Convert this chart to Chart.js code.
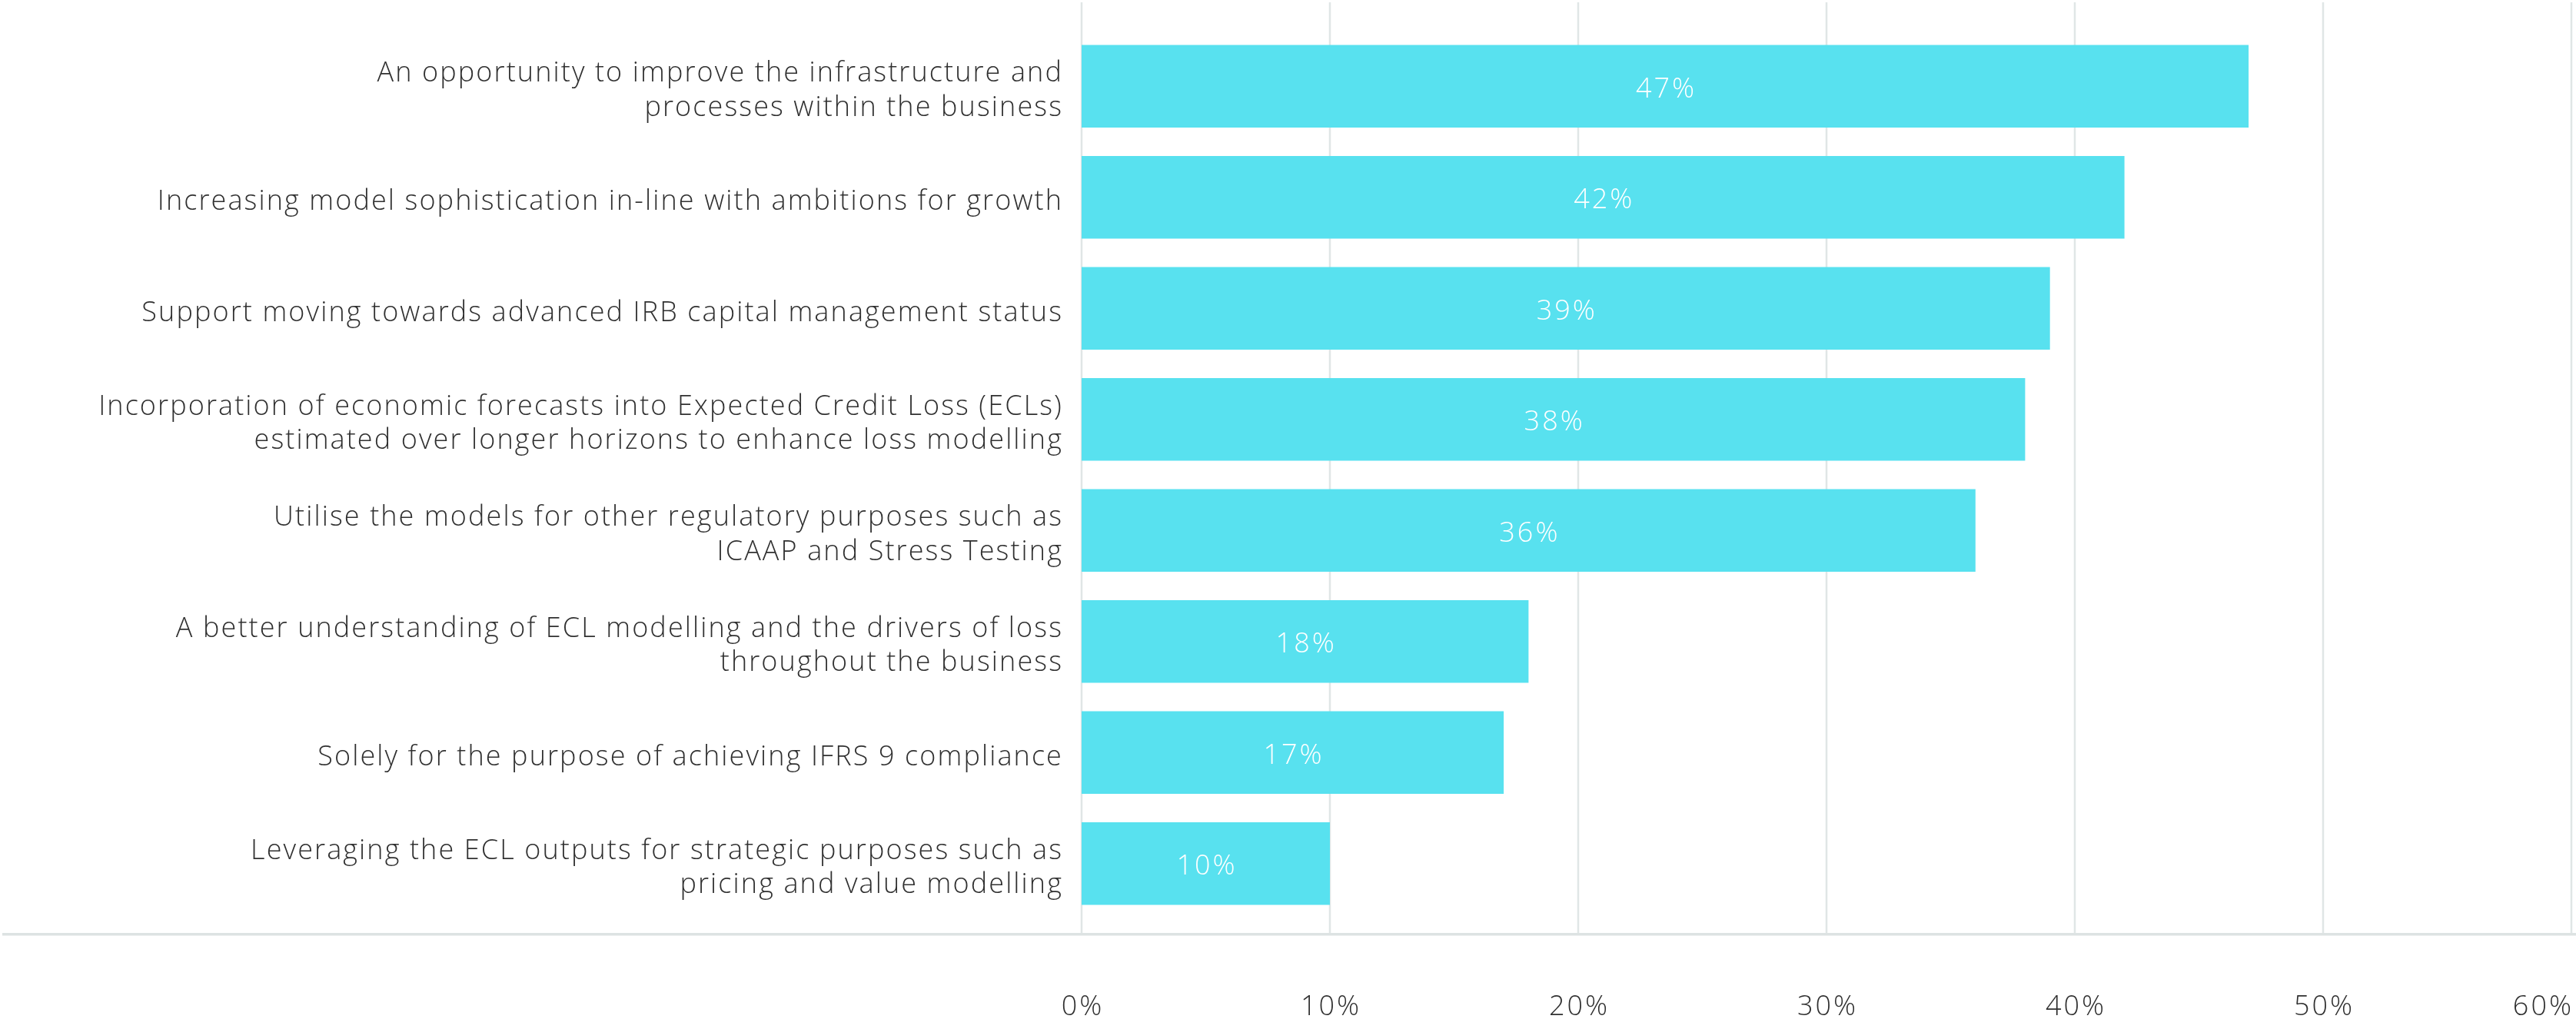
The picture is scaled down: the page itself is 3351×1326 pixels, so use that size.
<!DOCTYPE html>
<html>
<head>
<meta charset="utf-8">
<title>Drivers for IFRS 9 model development</title>
<script src="https://cdn.jsdelivr.net/npm/chart.js@4/dist/chart.umd.min.js"></script>
<style>
  html, body { margin: 0; padding: 0; background: #ffffff; }
  #wrap { width: 3351px; height: 1326px; position: relative; }
</style>
</head>
<body>
<div id="wrap"><canvas id="c" width="3351" height="1326"></canvas></div>
<script>
// Survey answers (top to bottom)
const categories = [
  ["An opportunity to improve the infrastructure and", "processes within the business"],
  "Increasing model sophistication in-line with ambitions for growth",
  "Support moving towards advanced IRB capital management status",
  ["Incorporation of economic forecasts into Expected Credit Loss (ECLs)", "estimated over longer horizons to enhance loss modelling"],
  ["Utilise the models for other regulatory purposes such as", "ICAAP and Stress Testing"],
  ["A better understanding of ECL modelling and the drivers of loss", "throughout the business"],
  "Solely for the purpose of achieving IFRS 9 compliance",
  ["Leveraging the ECL outputs for strategic purposes such as", "pricing and value modelling"]
];

// Share of respondents, in percent
const shares = [47, 42, 39, 38, 36, 18, 17, 10];

// Value axis tick positions, in percent
const xTicks = [0, 10, 20, 30, 40, 50, 60];

const FONT = '"Open Sans", Lato, sans-serif';
const TEXT = '#303030';
const BAR = '#58e1ef';
const GRID = '#e0e6e6';
const NUM_FONT = '300 36px ' + FONT;

// Vertical gridlines and the baseline rule, drawn under the bars
const gridPlugin = {
  id: 'gridRules',
  beforeDraw(chart) {
    // slightly open tracking for the category labels
    chart.ctx.letterSpacing = '2.1px';
  },
  beforeDatasetsDraw(chart) {
    const { ctx, chartArea } = chart;
    const xs = chart.scales.x;
    const top = chartArea.top - 37;
    const bottom = chartArea.bottom + 20;
    ctx.save();
    ctx.strokeStyle = GRID;
    ctx.lineWidth = 2.5;
    xTicks.forEach(v => {
      const px = xs.getPixelForValue(v);
      ctx.beginPath();
      ctx.moveTo(px, top);
      ctx.lineTo(px, bottom);
      ctx.stroke();
    });
    ctx.fillStyle = '#dde3e3';
    ctx.fillRect(3, bottom - 2, chart.width - 3, 3.5);
    ctx.restore();
  },
  afterDatasetsDraw(chart) {
    const { ctx } = chart;
    const meta = chart.getDatasetMeta(0);
    ctx.save();
    ctx.letterSpacing = '3px';
    ctx.fillStyle = '#ffffff';
    ctx.font = NUM_FONT;
    ctx.textAlign = 'center';
    ctx.textBaseline = 'middle';
    meta.data.forEach((bar, i) => {
      const cx = (bar.x + bar.base) / 2;
      ctx.fillText(shares[i] + '%', cx + 1.5, bar.y + 4);
    });
    ctx.restore();
  },
  afterDraw(chart) {
    const { ctx, chartArea } = chart;
    const xs = chart.scales.x;
    ctx.save();
    ctx.letterSpacing = '3px';
    ctx.fillStyle = TEXT;
    ctx.font = NUM_FONT;
    ctx.textBaseline = 'alphabetic';
    xTicks.forEach((v, i) => {
      const px = xs.getPixelForValue(v);
      const last = i === xTicks.length - 1;
      ctx.textAlign = last ? 'right' : 'center';
      ctx.fillText(v + '%', last ? px + 3 : px + 1.5, chartArea.bottom + 125);
    });
    ctx.restore();
  }
};

new Chart(document.getElementById('c'), {
  type: 'bar',
  data: {
    labels: categories,
    datasets: [{
      data: shares,
      backgroundColor: BAR,
      borderWidth: 0,
      barPercentage: 0.745,
      categoryPercentage: 1
    }]
  },
  options: {
    indexAxis: 'y',
    responsive: false,
    devicePixelRatio: 1,
    animation: false,
    layout: { padding: { top: 40, bottom: 130, left: 0, right: 6 } },
    plugins: {
      legend: { display: false },
      tooltip: { enabled: false }
    },
    scales: {
      x: {
        type: 'linear',
        min: 0,
        max: 60,
        display: false
      },
      y: {
        grid: { display: false, drawTicks: false },
        border: { display: false },
        ticks: {
          color: TEXT,
          padding: 24,
          labelOffset: 6,
          font: { family: FONT, size: 36, weight: 300, lineHeight: 1.23 }
        },
        afterFit(scale) {
          scale.width = 1407;
          scale.paddingTop = 0;
          scale.paddingBottom = 0;
        }
      }
    }
  },
  plugins: [gridPlugin]
});
</script>
</body>
</html>
